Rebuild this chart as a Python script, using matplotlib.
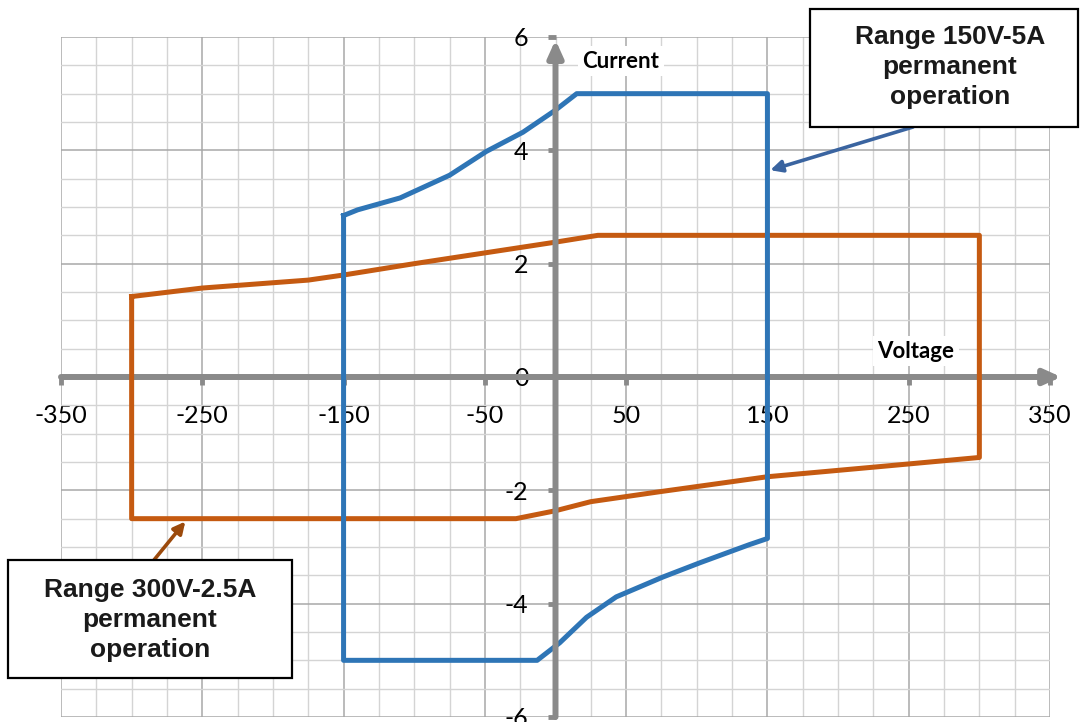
import matplotlib
matplotlib.use("Agg")
import matplotlib.pyplot as plt
from matplotlib.patches import Rectangle
import numpy as np

# ---- data ----
blue_x = [-150, -140, -110, -75, -49, -23, 0, 15, 150,
          150, 137, 102, 76, 43, 22, 3, -13, -150, -150]
blue_y = [2.85, 2.95, 3.16, 3.56, 3.98, 4.32, 4.71, 5.0, 5.0,
          -2.85, -2.96, -3.28, -3.53, -3.88, -4.24, -4.69, -5.0, -5.0, 2.85]

orange_x = [-300, -250, -175, -150, -100, -50, 0, 30, 300,
            300, 230, 150, 75, 25, 0, -28, -300, -300]
orange_y = [1.42, 1.57, 1.71, 1.80, 2.00, 2.19, 2.38, 2.5, 2.5,
            -1.42, -1.58, -1.76, -2.02, -2.20, -2.36, -2.5, -2.5, 1.42]

x_major = [-350, -250, -150, -50, 50, 150, 250, 350]
y_major = [-6, -4, -2, 0, 2, 4, 6]
x_label = "Voltage"
y_label = "Current"
label_150 = "Range 150V-5A\npermanent\noperation"
label_300 = "Range 300V-2.5A\npermanent\noperation"

BLUE = "#2e75b6"
ORANGE = "#c55a11"
AXIS_GRAY = "#8a8a8a"

W, H = 1081, 722
fig = plt.figure(figsize=(W / 100, H / 100), dpi=100)
fig.patch.set_facecolor("white")
ax = fig.add_axes([61 / W, 5 / H, 989 / W, 680 / H])
ax.set_xlim(-350, 350)
ax.set_ylim(-6, 6)
ax.set_facecolor("white")

# grid
ax.set_xticks(x_major)
ax.set_yticks(y_major)
ax.set_xticks(np.arange(-350, 351, 25), minor=True)
ax.set_yticks(np.arange(-6, 6.01, 0.5), minor=True)
ax.grid(which="minor", color="#d4d4d4", lw=1.0, zorder=0)
ax.grid(which="major", color="#a8a8a8", lw=1.1, zorder=0)
ax.set_axisbelow(True)

for s in ["top", "right"]:
    ax.spines[s].set_visible(False)
ax.spines["bottom"].set_position("zero")
ax.spines["left"].set_position("zero")
ax.spines["bottom"].set_visible(False)
ax.spines["left"].set_visible(False)

ax.tick_params(which="minor", length=0)
ax.tick_params(axis="x", which="major", direction="out", length=5.5, width=3.5,
               color=AXIS_GRAY, pad=14, labelsize=18)
ax.tick_params(axis="y", which="major", direction="out", length=5.5, width=3.5,
               color=AXIS_GRAY, pad=14, labelsize=18)
ax.set_xticklabels([str(v) for v in x_major], family="Lato")
ax.set_yticklabels([str(v) for v in y_major], family="Lato")

# axis lines with arrows
ax.annotate("", xy=(358, 0), xytext=(-350, 0), xycoords="data",
            arrowprops=dict(arrowstyle="-|>,head_length=1.0,head_width=0.45",
                            color=AXIS_GRAY, lw=4.3, shrinkA=0, shrinkB=0),
            zorder=2, annotation_clip=False)
ax.annotate("", xy=(0, 5.95), xytext=(0, -6), xycoords="data",
            arrowprops=dict(arrowstyle="-|>,head_length=1.0,head_width=0.45",
                            color=AXIS_GRAY, lw=4.3, shrinkA=0, shrinkB=0),
            zorder=4, annotation_clip=False)

# series
ax.plot(orange_x, orange_y, color=ORANGE, lw=3.6, solid_joinstyle="round",
        zorder=3, clip_on=False)
ax.plot(blue_x, blue_y, color=BLUE, lw=3.6, solid_joinstyle="round",
        zorder=3, clip_on=False)

# axis titles
fig.text(621 / W, 1 - 61 / H, y_label, ha="center", va="center",
         family="Lato", fontweight="bold", fontsize=16,
         bbox=dict(fc="white", ec="none", pad=3))
fig.text(916 / W, 1 - 351 / H, x_label, ha="center", va="center",
         family="Lato", fontweight="bold", fontsize=16,
         bbox=dict(fc="white", ec="none", pad=3))

# callout boxes
fig.add_artist(Rectangle((810 / W, 1 - 127 / H), 268 / W, 118 / H,
                         transform=fig.transFigure, fc="white", ec="black",
                         lw=1.6, zorder=5))
fig.text(950 / W, 1 - 67 / H, label_150, ha="center", va="center",
         family="Liberation Sans", fontweight="bold", fontsize=19,
         linespacing=1.3, color="#1a1a1a", zorder=6)
fig.add_artist(Rectangle((8 / W, 1 - 678 / H), 284 / W, 118 / H,
                         transform=fig.transFigure, fc="white", ec="black",
                         lw=1.6, zorder=5))
fig.text(150 / W, 1 - 620 / H, label_300, ha="center", va="center",
         family="Liberation Sans", fontweight="bold", fontsize=19,
         linespacing=1.3, color="#1a1a1a", zorder=6)

# callout arrows
ax.annotate("", xy=(152, 3.65), xycoords="data",
            xytext=(913, H - 127), textcoords="figure pixels",
            arrowprops=dict(arrowstyle="-|>,head_length=0.7,head_width=0.35",
                            color="#3a64a0", lw=2.6, shrinkA=0, shrinkB=0),
            zorder=6, annotation_clip=False)
ax.annotate("", xy=(-262, -2.55), xycoords="data",
            xytext=(154, H - 560), textcoords="figure pixels",
            arrowprops=dict(arrowstyle="-|>,head_length=0.7,head_width=0.35",
                            color="#9c4a0c", lw=2.6, shrinkA=0, shrinkB=0),
            zorder=6, annotation_clip=False)

fig.savefig("out.png", dpi=100, facecolor="white")
